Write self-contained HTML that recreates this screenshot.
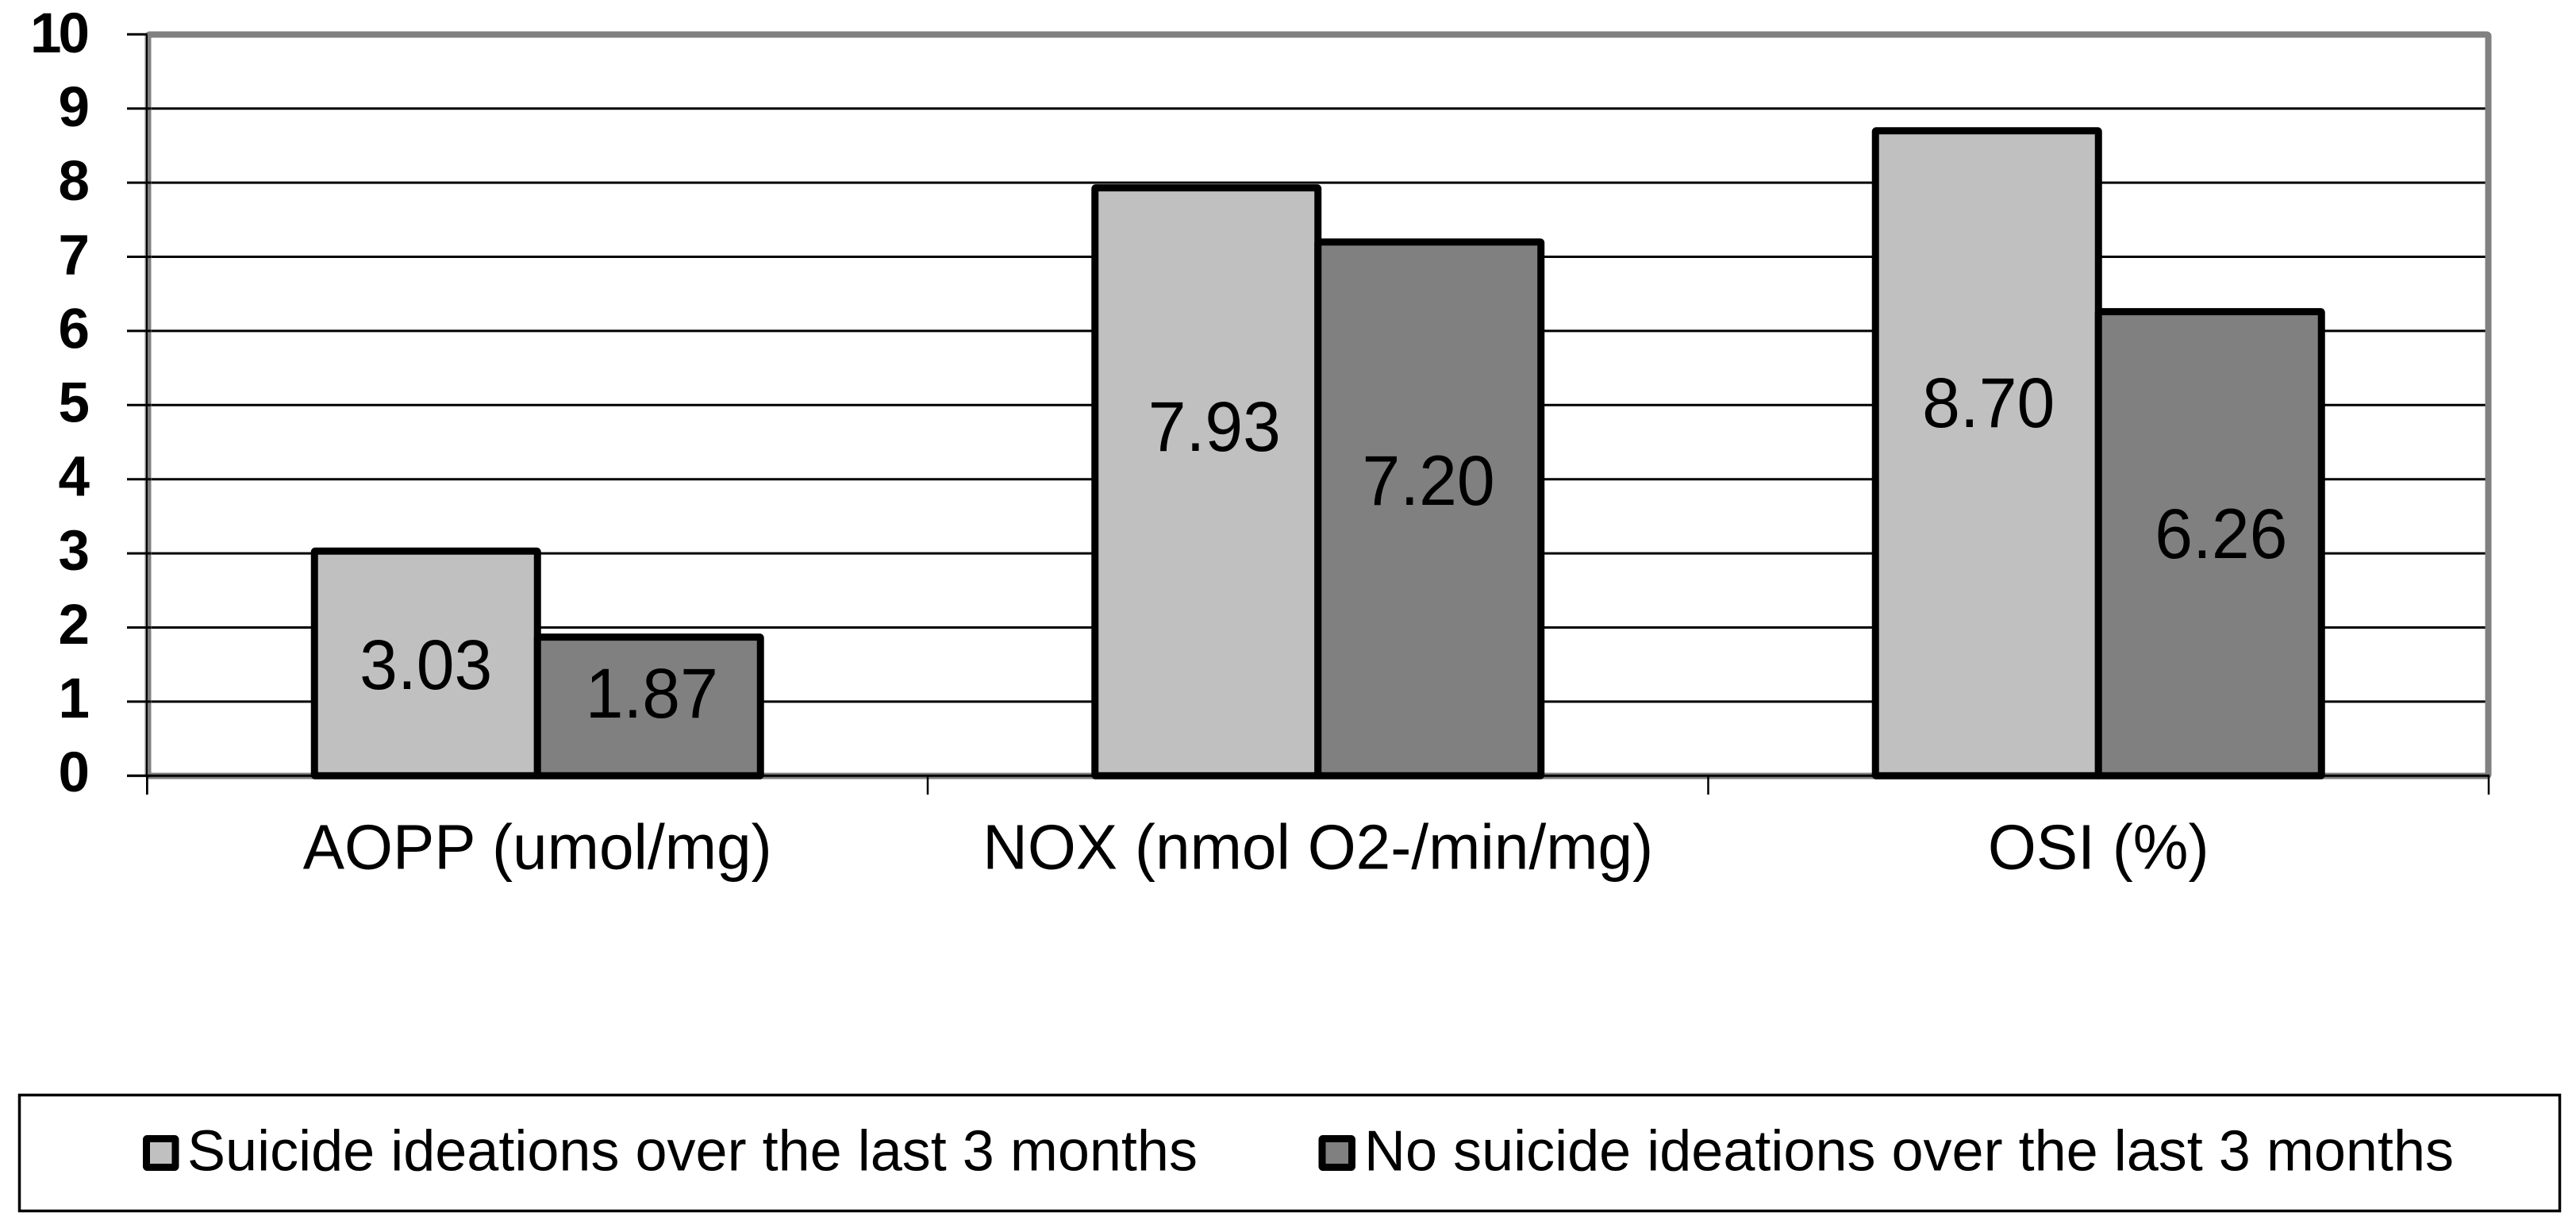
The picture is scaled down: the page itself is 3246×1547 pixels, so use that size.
<!DOCTYPE html>
<html lang="en">
<head>
<meta charset="utf-8">
<title>Oxidative stress markers by suicide ideation</title>
<style>
  html, body { margin: 0; padding: 0; background: #fff; }
  body { width: 3246px; height: 1547px; overflow: hidden; }
  svg { display: block; }
  text { font-family: "Liberation Sans", Arial, sans-serif; fill: #000; }
</style>
</head>
<body>
<svg id="chart" xmlns="http://www.w3.org/2000/svg" width="3246" height="1547" viewBox="0 0 3246 1547">
  <g id="gridlines"></g>
  <rect id="plot-frame" x="186.5" y="43.5" width="2949" height="934" rx="2" fill="none" stroke="#808080" stroke-width="8"></rect>
  <g id="axes"></g>
  <g id="bars"></g>
  <g id="value-labels"></g>
  <g id="y-labels"></g>
  <g id="x-labels"></g>

  <g>
    <rect x="24.5" y="1379.5" width="3201" height="146" fill="#fff" stroke="#000" stroke-width="3.5"></rect>
    <g>
      <rect x="184.5" y="1434.5" width="36.5" height="36" rx="1" fill="#C0C0C0" stroke="#000" stroke-width="9"></rect>
      <text x="236" y="1474.5" font-size="72" textLength="1273" lengthAdjust="spacingAndGlyphs">Suicide ideations over the last 3 months</text>
    </g>
    <g>
      <rect x="1666" y="1434.5" width="37.5" height="36" rx="1" fill="#808080" stroke="#000" stroke-width="9"></rect>
      <text x="1719" y="1474.5" font-size="72" textLength="1373" lengthAdjust="spacingAndGlyphs">No suicide ideations over the last 3 months</text>
    </g>
  </g>
</svg>

<script>
// ---- chart data ----
const categories = ["AOPP (umol/mg)", "NOX (nmol O2-/min/mg)", "OSI (%)"];
const suicideIdeations = [3.03, 7.93, 8.70];
const noSuicideIdeations = [1.87, 7.20, 6.26];
const yTickLabels = ["0", "1", "2", "3", "4", "5", "6", "7", "8", "9", "10"];

// ---- axis functions ----
const SVG_NS = "http://www.w3.org/2000/svg";
const PLOT = { left: 185.5, right: 3136, top: 43.3, bottom: 977.3, yMax: 10 };
const categoryWidth = (PLOT.right - PLOT.left) / categories.length;
const barWidth = categoryWidth / 3.5; // 150% gap width

function yScale(v) {
  return PLOT.bottom - (v / PLOT.yMax) * (PLOT.bottom - PLOT.top);
}
function xCategoryCenter(i) {
  return PLOT.left + categoryWidth * (i + 0.5);
}
function xCategoryEdge(i) {
  return PLOT.left + categoryWidth * i;
}

function create(tag, parent, attrs) {
  const el = document.createElementNS(SVG_NS, tag);
  for (const k in attrs) el.setAttribute(k, attrs[k]);
  parent.appendChild(el);
  return el;
}

const gridGroup = document.getElementById("gridlines");
const axesGroup = document.getElementById("axes");
const barsGroup = document.getElementById("bars");
const valueGroup = document.getElementById("value-labels");
const yLabelGroup = document.getElementById("y-labels");
const xLabelGroup = document.getElementById("x-labels");

// Horizontal gridlines and left ticks
yTickLabels.forEach(function (label) {
  const v = Number(label);
  const y = yScale(v);

  const grid = create("line", gridGroup, { x1: PLOT.left, x2: 3132, y1: y, y2: y, stroke: "#000", "stroke-width": 3 });
  
  

  const tick = create("line", axesGroup, { x1: 160, x2: v === PLOT.yMax ? PLOT.left : 190, y1: y, y2: y, stroke: "#000", "stroke-width": 3 });
  
  

  // Tick labels sit on a very slightly tighter scale than the gridlines
  const text = create("text", yLabelGroup, { x: 109, y: 997 - v * 93.1, "font-size": 71, "font-weight": "bold", "text-anchor": "end", "letter-spacing": -4 });
  text.textContent = label;
  
  
});

// Axis lines
const yAxis = create("line", axesGroup, { x1: 185, x2: 185, y1: PLOT.top, y2: 1001, stroke: "#000", "stroke-width": 2 });



const xAxis = create("line", axesGroup, { x1: 160, x2: PLOT.right + 1, y1: PLOT.bottom, y2: PLOT.bottom, stroke: "#000", "stroke-width": 3 });



// Category ticks and labels
for (let i = 0; i <= categories.length; i++) {
  const x = xCategoryEdge(i);
  const tick = create("line", axesGroup, { x1: x, x2: x, y1: PLOT.bottom, y2: 1001, stroke: "#000", "stroke-width": 2.5 });
  
  
}
categories.forEach(function (name, i) {
  const cx = xCategoryCenter(i);
  const text = create("text", xLabelGroup, { transform: "translate(" + cx + ",1094.5) scale(0.98,1)", "font-size": 80, "text-anchor": "middle" });
  text.textContent = name;
  
  
});

// Bars and their hand-placed value labels
function drawSeries(values, fill, side, seriesName, placement) {
  values.forEach(function (value, i) {
    const cx = xCategoryCenter(i);
    const x0 = side < 0 ? cx - barWidth : cx;
    const yTop = yScale(value);
    const bar = create("rect", barsGroup, {
      x: x0, y: yTop, width: barWidth, height: PLOT.bottom - yTop, rx: 1,
      fill: fill, stroke: "#000", "stroke-width": 9, "stroke-linejoin": "round"
    });
    
    

    // The original labels were dragged by hand: position within each bar as shares of its size
    const labelX = x0 + barWidth * (0.5 + placement[i][0]);
    const labelCenterY = yTop + (PLOT.bottom - yTop) * placement[i][1];
    const label = create("text", valueGroup, {
      transform: "translate(" + labelX + "," + (labelCenterY + 32) + ") scale(0.965,1)",
      "font-size": 89, "text-anchor": "middle"
    });
    label.textContent = value.toFixed(2);
    
    
  });
}

drawSeries(suicideIdeations, "#C0C0C0", -1, "suicide-ideations",
  [[0, 0.5], [0.036, 0.404], [0.007, 0.42]]);
drawSeries(noSuicideIdeations, "#808080", 1, "no-suicide-ideations",
  [[0.0125, 0.397], [-0.004, 0.445], [0.05, 0.476]]);
</script>
</body>
</html>
